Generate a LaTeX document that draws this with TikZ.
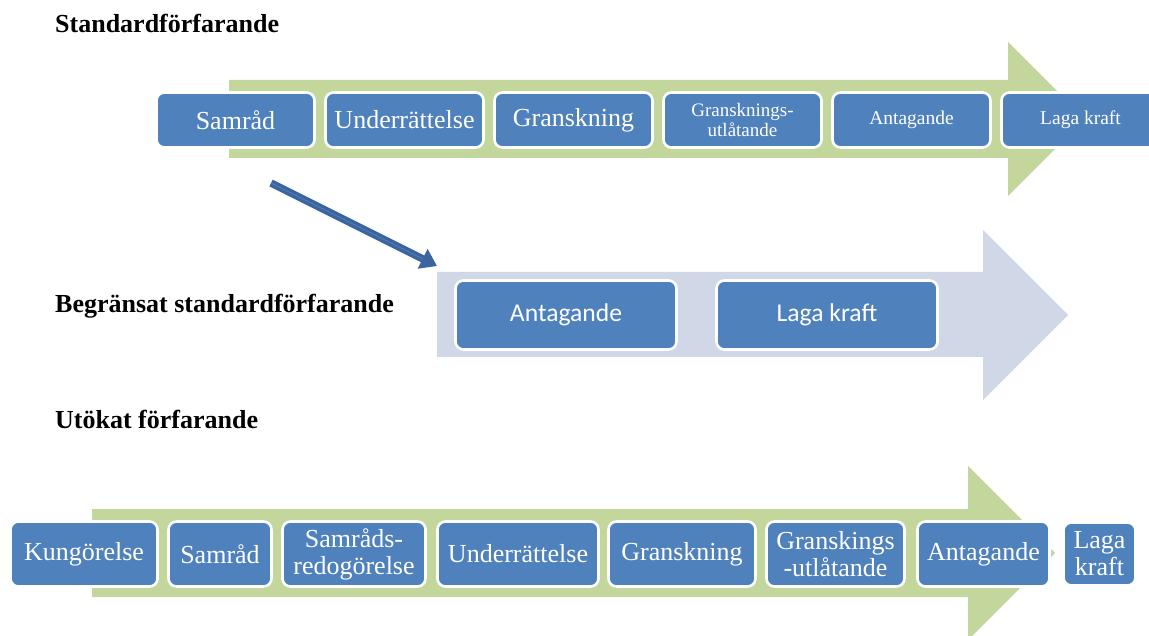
\documentclass[tikz,border=0pt]{standalone}
\usepackage{fontspec}
\setmainfont{Liberation Serif}
\newfontfamily\calfont{Carlito}
\usetikzlibrary{arrows.meta}
\definecolor{boxblue}{HTML}{4F81BD}
\definecolor{arrgreen}{HTML}{C3D69B}
\definecolor{arrgrey}{HTML}{D0D8E8}
\definecolor{darrow}{HTML}{3C649E}
\definecolor{darrowlight}{HTML}{4A76B2}
\begin{document}
\begin{tikzpicture}[x=1pt,y=-1pt,
  stepbox/.style={rectangle, rounded corners=8pt, fill=boxblue, draw=white,
    line width=2.6pt, text=white, align=center, inner sep=0pt},
  titletext/.style={anchor=base west, inner sep=0pt,
    font=\fontsize{26}{30}\selectfont\bfseries},
  bigtxt/.style={font=\fontsize{26}{27}\selectfont},
  smalltxt/.style={font=\fontsize{19.5}{20}\selectfont},
  caltxt/.style={font=\calfont\fontsize{25.6}{28}\selectfont},
  topbox/.style={stepbox, minimum width=158pt, minimum height=55pt},
  midbox/.style={stepbox, minimum width=221pt, minimum height=69pt},
  botbox/.style={stepbox, minimum height=65pt, bigtxt}
]
\useasboundingbox (0,0) rectangle (1149,636);
\clip (0,0) rectangle (1149,636);

% titles
\node[titletext] (t1) at (55,33) {Standardförfarande};
\node[titletext] (t2) at (55,313) {Begränsat standardförfarande};
\node[titletext] (t3) at (55,428) {Utökat förfarande};

% top green arrow
\fill[arrgreen] (229,80) -- (1008,80) -- (1008,42) -- (1085,119) -- (1008,196)
  -- (1008,158) -- (229,158) -- cycle;

% top boxes
\node[topbox, bigtxt] (a1) at (235.5,120) {Samråd};
\node[topbox, bigtxt] (a2) at (404.5,120) {Underrättelse};
\node[topbox, bigtxt] (a3) at (573.5,120) {Granskning};
\node[topbox, font=\fontsize{19}{20.5}\selectfont] (a4) at (742.5,120) {Gransknings-\\utlåtande};
\node[topbox, smalltxt] (a5) at (911.5,120) {Antagande};
\node[topbox, smalltxt] (a6) at (1080.5,120) {Laga kraft};

% middle grey arrow
\fill[arrgrey] (437,272) -- (983,272) -- (983,230) -- (1068,315) -- (983,400)
  -- (983,357) -- (437,357) -- cycle;
\node[midbox, caltxt] (b1) at (566,315) {Antagande};
\node[midbox, caltxt] (b2) at (827,315) {Laga kraft};

% diagonal connector
\coordinate (d1) at (271,183);
\coordinate (d2) at (437,266);
\draw[darrow, line width=7.5pt, -{Triangle[length=16pt,width=21pt]}] (d1) -- (d2);
\draw[darrowlight, line width=1.2pt, shorten >=16pt] (d1) -- (d2);

% bottom green arrow
\fill[arrgreen] (92,509) -- (968,509) -- (968,466) -- (1055,553) -- (968,640)
  -- (968,597) -- (92,597) -- cycle;

% bottom boxes
\node[botbox, minimum width=147pt] (c1) at (84,554) {Kungörelse};
\node[botbox, minimum width=103pt] (c2) at (220,554) {Samråd};
\node[botbox, minimum width=143pt] (c3) at (354,554) {Samråds-\\redogörelse};
\node[botbox, minimum width=161pt] (c4) at (518,554) {Underrättelse};
\node[botbox, minimum width=147pt] (c5) at (682,554) {Granskning};
\node[botbox, minimum width=138pt] (c6) at (835.5,554) {Granskings\\-utlåtande};
\node[botbox, minimum width=132pt] (c7) at (983.5,554) {Antagande};
\node[botbox, minimum width=72pt, minimum height=63pt] (c8) at (1099.5,554) {Laga\\kraft};
\end{tikzpicture}
\end{document}
